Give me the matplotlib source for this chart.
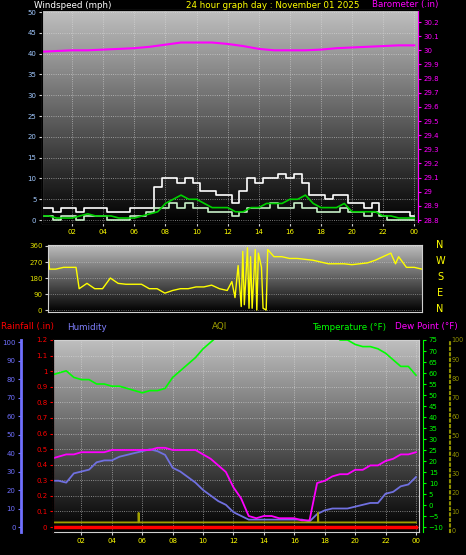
import matplotlib
matplotlib.use('Agg')
import matplotlib.pyplot as plt
import numpy as np

# half-hourly times used by most series
hours = [i * 0.5 for i in range(49)]

wind_gust = [3, 3, 2, 3, 3, 2, 3, 3, 3, 2, 2, 2, 3, 3, 3, 8, 10, 10, 9, 10, 9, 7, 7, 6, 6,
             4, 7, 10, 9, 10, 10, 11, 10, 11, 9, 6, 6, 5, 6, 6, 4, 4, 3, 4, 2, 2, 2, 2, 1]
wind_speed = [1, 1, 0, 1, 1, 0, 1, 1, 1, 0, 0, 0, 1, 1, 2, 3, 3, 4, 3, 4, 3, 3, 2, 2, 2,
              1, 2, 3, 3, 3, 4, 3, 3, 4, 3, 3, 2, 2, 2, 3, 2, 2, 1, 2, 1, 0, 0, 0, 0]
wind_avg = [1, 1, 0.5, 0.5, 0.5, 1, 1.5, 1, 1, 1, 0.5, 0.5, 0.5, 1, 1.5, 2, 4, 5, 6, 5, 5,
            4, 3, 3, 3, 2, 2, 3, 3, 4, 4, 4, 5, 5, 6, 4, 3, 3, 3, 4, 2, 2, 2, 2, 1, 1, 0.5, 0.5, 0.5]

baro_hours = list(range(25))
barometer = [29.99, 29.995, 30.0, 30.0, 30.005, 30.01, 30.015, 30.025, 30.04, 30.055, 30.055,
             30.055, 30.045, 30.03, 30.01, 30.0, 30.0, 30.0, 30.005, 30.015, 30.02, 30.025,
             30.03, 30.035, 30.035]

dir_hours = [0, 0.1, 0.5, 1, 1.5, 1.8, 2, 2.5, 3, 3.5, 4, 4.5, 5, 5.5, 6, 6.5, 7, 7.5, 8, 8.5,
             9, 9.5, 10, 10.5, 11, 11.5, 11.8, 12, 12.2, 12.4, 12.5, 12.6, 12.8, 12.9, 13.0,
             13.1, 13.3, 13.4, 13.5, 13.7, 13.8, 14.0, 14.1, 14.3, 14.5, 15, 15.5, 16, 16.5,
             17, 17.5, 18, 18.5, 19, 19.5, 20, 20.5, 21, 21.5, 22, 22.3, 22.5, 23, 23.5, 24]
wind_dir = [310, 230, 230, 240, 240, 240, 120, 150, 120, 120, 180, 150, 145, 145, 145, 120,
            120, 95, 110, 120, 120, 130, 130, 140, 120, 110, 160, 70, 250, 20, 330, 30, 350,
            10, 300, 10, 340, 0, 320, 240, 10, 0, 340, 320, 300, 300, 290, 290, 285, 280,
            270, 260, 260, 260, 255, 260, 265, 280, 300, 320, 260, 300, 240, 240, 230]

temperature = [59, 60, 61, 58, 57, 57, 55, 55, 54, 54, 53, 52, 51, 52, 52, 53, 58, 61, 64, 67,
               71, 74, 77, 80, 80, 80, 80, 80, 80, 80, 80, 80, 80, 80, 80, 80, 80, 80, 75, 75,
               73, 72, 72, 71, 69, 66, 63, 63, 59]
dew_point = [21, 22, 23, 23, 24, 24, 24, 24, 25, 25, 25, 25, 25, 25, 26, 26, 25, 25, 25, 25,
             23, 21, 18, 15, 8, 3, -5, -6, -5, -5, -6, -6, -6, -7, -7, 10, 11, 13, 14, 14,
             16, 16, 18, 18, 20, 21, 23, 23, 24]
humidity = [25, 25, 24, 29, 30, 31, 35, 36, 36, 38, 39, 40, 41, 42, 41, 39, 32, 30, 27, 24,
            20, 17, 14, 12, 8, 6, 4, 4, 4, 4, 4, 4, 4, 4, 3, 7, 9, 10, 10, 10, 11, 12, 13, 13,
            18, 19, 22, 23, 27]
rainfall = [0] * 49
aqi_hours = [0, 5.75, 5.76, 5.78, 17.55, 17.56, 17.58, 24]
aqi = [4, 4, 9, 4, 4, 9, 4, 4]

hour_ticks = list(range(2, 25, 2))
hour_labels = ['%02d' % (h % 24) for h in hour_ticks]

W, H = 466, 555
fig = plt.figure(figsize=(W / 100, H / 100), dpi=100, facecolor='black')
plt.rcParams['font.family'] = ['DejaVu Sans']
fs = 5
tfs = 6.3


def px_axes(x0, y0, x1, y1):
    return fig.add_axes([x0 / W, 1 - y1 / H, (x1 - x0) / W, (y1 - y0) / H])


def shade(ax):
    grad = np.linspace(0.75, 0.0, 256).reshape(-1, 1)
    ax.imshow(grad, cmap='gray', vmin=0, vmax=1, aspect='auto', extent=[0, 1, 0, 1],
              transform=ax.transAxes, zorder=0)
    ax.set_facecolor('black')
    for s in ax.spines.values():
        s.set_color('#d0d0d0')


# ---- windspeed / barometer
ax1 = px_axes(42, 10, 418, 223)
shade(ax1)
ax1.step(hours, wind_gust, where='mid', color='white', lw=1.2, zorder=3)
ax1.step(hours, wind_speed, where='mid', color='#c8f0c8', lw=1.2, zorder=4)
ax1.plot(hours, wind_avg, color='#00d000', lw=1.2, zorder=5)
ax1.set_xlim(0.06, 24.24)
ax1.set_ylim(-0.7, 50.5)
ax1.set_yticks(range(0, 51, 5))
ax1.set_xticks(hour_ticks)
ax1.set_xticklabels(hour_labels)
ax1.tick_params(axis='x', colors='#d0d0d0', labelcolor='yellow', labelsize=fs, length=2, pad=2)
ax1.tick_params(axis='y', colors='#d0d0d0', labelcolor='#a0c8ff', labelsize=fs, length=2, pad=2)
ax1.grid(True, color='#e0e0e0', ls=':', lw=0.6, alpha=0.7)
b = ax1.twinx()
b.plot(baro_hours, barometer, color='#ff00ff', lw=1.5)
b.set_ylim(28.779, 30.285)
b.set_yticks(np.round(np.arange(28.8, 30.21, 0.1), 1))
b.set_yticklabels(['%g' % v for v in np.round(np.arange(28.8, 30.21, 0.1), 1)])
b.tick_params(axis='y', colors='#ff00ff', labelsize=fs, length=2, pad=2)
b.spines['right'].set_color('#ff00ff')
fig.text(34 / W, 1 - 5 / H, 'Windspeed (mph)', color='white', fontsize=tfs, va='center')
fig.text(273 / W, 1 - 5 / H, '24 hour graph day : November 01 2025', color='yellow',
         fontsize=tfs, va='center', ha='center')
fig.text(372 / W, 1 - 5 / H, 'Barometer (.in)', color='#ff00ff', fontsize=tfs, va='center')

# ---- wind direction
ax2 = px_axes(48, 245, 422, 312)
shade(ax2)
ax2.plot(dir_hours, wind_dir, color='#ffff00', lw=1)
ax2.set_xlim(0, 24)
ax2.set_ylim(-11, 365.6)
ax2.set_yticks([0, 90, 180, 270, 360])
ax2.set_xticks(hour_ticks)
ax2.tick_params(axis='x', length=0, labelbottom=False)
ax2.tick_params(axis='y', colors='#d0d0d0', labelcolor='#e0e000', labelsize=fs, length=2, pad=2)
ax2.grid(True, axis='y', color='#e0e0e0', ls=':', lw=0.6, alpha=0.6)
for i, c in enumerate(['N', 'W', 'S', 'E', 'N']):
    fig.text(440 / W, 1 - (245 + i * 16) / H, c, color='yellow', fontsize=7,
             ha='center', va='center')

fig.text(1 / W, 1 - 327 / H, 'Rainfall (.in)', color='red', fontsize=tfs, va='center')
fig.text(67 / W, 1 - 327 / H, 'Humidity', color='#8080ff', fontsize=tfs, va='center')
fig.text(220 / W, 1 - 327 / H, 'AQI', color='#a0a000', fontsize=tfs, va='center', ha='center')
fig.text(312 / W, 1 - 327 / H, 'Temperature (°F)', color='#00ff00', fontsize=tfs, va='center')
fig.text(395 / W, 1 - 327 / H, 'Dew Point (°F)', color='#ff00ff', fontsize=tfs, va='center')

# ---- temperature / humidity / rain / aqi
ax3 = px_axes(53, 340, 419, 532)
shade(ax3)
ax3.set_xlim(0.13, 24.2)
ax3.set_ylim(-0.032, 1.2)
ax3.set_yticks(np.round(np.arange(0, 1.21, 0.1), 1))
ax3.set_yticklabels(['%g' % v for v in np.round(np.arange(0, 1.21, 0.1), 1)])
ax3.step(hours, rainfall, where='mid', color='red', lw=2.5, zorder=6)
ax3.set_xticks(hour_ticks)
ax3.set_xticklabels(hour_labels)
ax3.tick_params(axis='x', colors='#d0d0d0', labelcolor='yellow', labelsize=fs, length=2, pad=2)
ax3.tick_params(axis='y', colors='red', labelsize=fs, length=2, pad=2)
ax3.spines['left'].set_color('red')
ax3.spines['left'].set_linestyle(':')
ax3.grid(True, color='#e0e0e0', ls=':', lw=0.6, alpha=0.7)

hum = ax3.twinx()
hum.yaxis.set_ticks_position('left')
hum.yaxis.set_label_position('left')
hum.spines['left'].set_visible(True)
hum.spines['left'].set_position(('outward', 23))
hum.spines['left'].set_color('#7070ff')
hum.spines['left'].set_linewidth(2)
hum.spines['right'].set_visible(False)
hum.plot(hours, humidity, color='#7070e0', lw=1.3)
hum.set_ylim(-2.7, 101.1)
hum.set_yticks(range(0, 101, 10))
hum.tick_params(axis='y', colors='#7070ff', labelsize=fs, length=2, pad=2)

tmp = ax3.twinx()
tmp.plot(hours, temperature, color='#00ff00', lw=1.2)
tmp.plot(hours, dew_point, color='#ff00ff', lw=1.3)
tmp.set_ylim(-12.27, 75)
tmp.set_yticks(range(-10, 76, 5))
tmp.spines['right'].set_position(('outward', 3))
tmp.spines['right'].set_color('#00ff00')
tmp.tick_params(axis='y', colors='#00ff00', labelsize=fs, length=2, pad=2)

aq = ax3.twinx()
aq.plot(aqi_hours, aqi, color='#a0a000', lw=1.3)
aq.set_ylim(-1.05, 100)
aq.set_yticks(range(0, 101, 10))
aq.spines['right'].set_position(('outward', 22))
aq.spines['right'].set_color('#909000')
aq.spines['right'].set_linestyle(':')
aq.spines['right'].set_linewidth(1.5)
aq.tick_params(axis='y', colors='#909000', labelsize=fs - 0.3, length=0, pad=1.5)
for a in (hum, tmp, aq):
    a.spines['top'].set_visible(False)
    a.spines['bottom'].set_visible(False)

fig.savefig('out.png', dpi=100, facecolor='black')
